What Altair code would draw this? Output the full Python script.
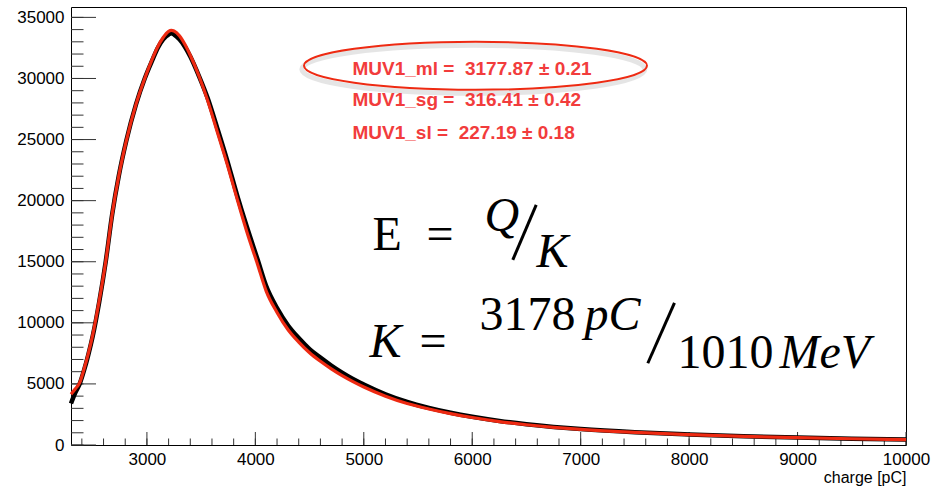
import altair as alt
import pandas as pd

# ---- data ----
charge_pc = [2300, 2340, 2380, 2420, 2460, 2500, 2560, 2620, 2680, 2740, 2810, 2900,
             2980, 3050, 3100, 3150, 3200, 3225, 3250, 3300, 3350, 3400, 3480, 3560,
             3650, 3740, 3830, 3920, 4020, 4100, 4200, 4300, 4400, 4500, 4600, 4700,
             4800, 4900, 5000, 5200, 5400, 5600, 5800, 6000, 6250, 6500, 6750, 7000,
             7500, 8000, 8500, 9000, 9500, 10000]
data_counts = [3400, 4300, 5000, 6100, 7400, 8900, 11700, 15000, 18900, 22000, 24900, 27900,
               30000, 31500, 32500, 33200, 33600, 33700, 33600, 33200, 32600, 31800, 30200, 28400,
               25900, 23300, 20500, 17900, 15200, 13000, 11200, 9800, 8750, 7850, 7150, 6500,
               5920, 5400, 4950, 4150, 3520, 3040, 2640, 2310, 1970, 1700, 1480, 1300,
               1040, 860, 720, 610, 520, 450]
fit_counts = [4150, 4600, 5100, 6200, 7500, 9000, 11800, 15000, 18900, 22000, 24900, 27900,
              30000, 31600, 32600, 33350, 33850, 33930, 33880, 33500, 32800, 31900, 30200, 28200,
              25600, 23000, 20200, 17500, 14800, 12600, 10850, 9450, 8420, 7550, 6850, 6230,
              5680, 5190, 4750, 4000, 3400, 2950, 2570, 2250, 1920, 1660, 1450, 1280,
              1030, 850, 710, 600, 510, 440]

x_major_ticks = [3000, 4000, 5000, 6000, 7000, 8000, 9000, 10000]
x_minor_ticks = list(range(2400, 10001, 200))
y_major_ticks = [0, 5000, 10000, 15000, 20000, 25000, 30000, 35000]
y_minor_ticks = list(range(0, 35001, 1000))

NB = "\u00a0"
fit_labels = [f"MUV1_ml ={NB}{NB}3177.87{NB}\u00b1{NB}0.21",
              f"MUV1_sg ={NB}{NB}316.41{NB}\u00b1{NB}0.42",
              f"MUV1_sl ={NB}{NB}227.19{NB}\u00b1{NB}0.18"]

# ---- layout ----
W, H = 835, 438
RED = "#ee2a12"
TXT_RED = "#f23c3c"

X_SCALE = alt.Scale(domain=[2300, 10000], nice=False, zero=False)
Y_SCALE = alt.Scale(domain=[0, 35850], nice=False, zero=True)

x_axis = alt.Axis(values=x_major_ticks, ticks=False, domain=False, grid=False,
                  labelFont="Liberation Sans", labelFontSize=17, labelPadding=6,
                  labelColor="black", labelFlush=False, labelOverlap=False, format="d",
                  title="charge [pC]", titleFont="Liberation Sans", titleFontSize=16,
                  titleFontWeight="normal", titleColor="black", titleAnchor="end",
                  titleAlign="right", titleBaseline="alphabetic", titleX=W, titleY=37)
y_axis = alt.Axis(values=y_major_ticks, ticks=False, domain=False, grid=False,
                  labelFont="Liberation Sans", labelFontSize=17, labelPadding=7,
                  labelColor="black", labelFlush=False, labelOverlap=False, format="d",
                  title=None)


def X(field="x"):
    return alt.X(f"{field}:Q", scale=X_SCALE, axis=x_axis)


def Y(field="y"):
    return alt.Y(f"{field}:Q", scale=Y_SCALE, axis=y_axis)


hist_df = pd.DataFrame({"x": charge_pc, "y": data_counts})
fit_df = pd.DataFrame({"x": charge_pc, "y": fit_counts})

# ticks drawn inside the frame, ROOT style
xt_major = alt.Chart(pd.DataFrame({"x": x_major_ticks})).mark_rule(
    color="#333333", strokeWidth=1).encode(x=X(), y=alt.value(H), y2=alt.value(H - 13))
xt_minor = alt.Chart(pd.DataFrame({"x": x_minor_ticks})).mark_rule(
    color="#333333", strokeWidth=1).encode(x=X(), y=alt.value(H), y2=alt.value(H - 6.5))
yt_major = alt.Chart(pd.DataFrame({"y": y_major_ticks})).mark_rule(
    color="#333333", strokeWidth=1).encode(y=Y(), x=alt.value(0), x2=alt.value(25))
yt_minor = alt.Chart(pd.DataFrame({"y": y_minor_ticks})).mark_rule(
    color="#333333", strokeWidth=1).encode(y=Y(), x=alt.value(0), x2=alt.value(12.5))

hist = alt.Chart(hist_df).mark_line(color="black", strokeWidth=4.5,
                                    interpolate="monotone").encode(x=X(), y=Y())
fit = alt.Chart(fit_df).mark_line(color=RED, strokeWidth=3.2,
                                  interpolate="monotone").encode(x=X(), y=Y())

# fit parameter box
lab_df = pd.DataFrame({"x": [4896, 4896, 4896], "y": [30794, 28256, 25553], "t": fit_labels})
labels = alt.Chart(lab_df).mark_text(
    align="left", baseline="middle", font="Liberation Sans", fontSize=19,
    fontWeight="bold", color=TXT_RED).encode(x=X(), y=Y(), text="t:N")

ELLIPSE = "M -1 0 A 1 0.14 0 1 0 1 0 A 1 0.14 0 1 0 -1 0 Z"
ell_shadow = alt.Chart(pd.DataFrame({"x": [6010], "y": [30750]})).mark_point(
    shape=ELLIPSE, size=343 ** 2, filled=False, stroke="#aaaaaa", strokeWidth=5,
    opacity=0.3).encode(x=X(), y=Y())
ellipse = alt.Chart(pd.DataFrame({"x": [6030], "y": [31040]})).mark_point(
    shape=ELLIPSE, size=343 ** 2, filled=False, stroke=RED, strokeWidth=2,
    opacity=1).encode(x=X(), y=Y())

# formula annotations
up_df = pd.DataFrame({"x": [5081, 5579, 5514, 6067, 7893],
                      "y": [15970, 15970, 7207, 9419, 6306],
                      "t": ["E", "=", "=", "3178", "1010"]})
it_df = pd.DataFrame({"x": [6113, 6593, 5053, 7035, 8834],
                      "y": [17527, 14578, 7207, 9419, 6306],
                      "t": ["Q", "K", "K", "pC", "MeV"]})
upright = alt.Chart(up_df).mark_text(
    align="left", baseline="alphabetic", font="Liberation Serif", fontSize=48,
    color="black").encode(x=X(), y=Y(), text="t:N")
italic = alt.Chart(it_df).mark_text(
    align="left", baseline="alphabetic", font="Liberation Serif", fontSize=48,
    fontStyle="italic", color="black").encode(x=X(), y=Y(), text="t:N")
slash_df = pd.DataFrame({"x": [6374, 7619], "y": [15152, 6691],
                         "x2": [6590, 7865], "y2": [19656, 11630]})
slashes = alt.Chart(slash_df).mark_rule(color="black", strokeWidth=3).encode(
    x=X(), y=Y(), x2="x2:Q", y2="y2:Q")

chart = alt.layer(
    xt_minor, xt_major, yt_minor, yt_major, hist, fit, ell_shadow, ellipse, labels,
    upright, italic, slashes
).properties(
    width=W, height=H,
    autosize=alt.AutoSizeParams(type="none"),
    padding={"left": 71, "top": 7, "right": 31, "bottom": 42},
    background="white",
).configure_view(stroke="black", strokeWidth=1)

chart.save("out.html", embed_options={"renderer": "svg", "actions": False})
